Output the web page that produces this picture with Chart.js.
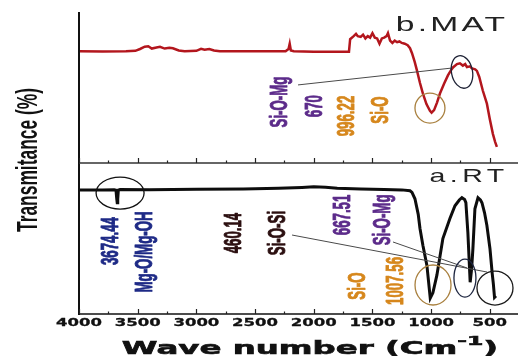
<!DOCTYPE html>
<html>
<head>
<meta charset="utf-8">
<script src="https://cdn.jsdelivr.net/npm/chart.js@4.4.1/dist/chart.umd.min.js"></script>
<style>
  html, body { margin: 0; padding: 0; background: #fff; overflow: hidden; }
  #wrap { position: relative; width: 518px; height: 356px; }
</style>
</head>
<body>
<div id="wrap"><canvas id="ftir" width="518" height="356"></canvas></div>
<script>
// FTIR spectra: wavenumber (cm-1) and transmittance (%, each panel on its own 0-100 scale)

// b.MAT (upper panel)
const matWavenumber = [4000, 3800, 3600, 3520, 3480, 3440, 3410, 3380, 3340, 3310, 3270, 3230, 3200, 3150, 3100,
  3000, 2960, 2930, 2890, 2850, 2800, 2500, 2240, 2215, 2205, 2195, 2170, 2000, 1800, 1700,
  1690, 1660, 1640, 1625, 1600, 1580, 1560, 1540, 1520, 1500, 1480, 1460, 1440, 1420, 1400,
  1380, 1368, 1350, 1330, 1310, 1290, 1270, 1250, 1225, 1200, 1180, 1163, 1140, 1121, 1095,
  1070, 1040, 1010, 996.22, 975, 950, 925, 890, 857, 830, 814, 780, 755, 730, 710, 695, 670,
  652, 625, 610, 590, 560, 525, 500, 474, 455, 440];
const matTransmittance = [74, 73.8, 74, 74.3, 75.5, 77, 77.3, 75.8, 76.5, 77, 75.8, 76.3, 76, 74.5, 74,
  74.3, 75.6, 75, 75.5, 74.5, 74, 74, 74, 75.5, 79, 74.5, 74, 73.6, 73.6, 73.7,
  82, 84, 85.5, 84, 83.5, 85, 82.5, 84, 83, 86, 83, 82.5, 79, 82.5, 83,
  84, 86, 81, 79.5, 81, 80, 80.5, 79.5, 79, 78, 76, 72.7, 67, 61.3, 53,
  46, 39, 34.5, 33.3, 35, 40, 46, 52.5, 58, 61.5, 63.3, 65.5, 66, 64.5, 65.5, 63.5, 64,
  62.7, 62, 61, 57, 48, 39.3, 29, 19.3, 14, 10.7];

// a.RT (lower panel)
const rtWavenumber = [4000, 3800, 3700, 3685, 3678, 3674.44, 3670, 3665, 3650, 3400, 3000, 2600, 2300, 2100,
  2000, 1900, 1800, 1600, 1400, 1250, 1180, 1163, 1138, 1110, 1095, 1070, 1036, 1007.56, 985,
  951, 900, 840, 797, 760, 738, 715, 704, 687, 667.51, 655, 644, 627, 601, 580, 567, 545, 525,
  499, 480, 470, 460.14, 448];
const rtTransmittance = [82.2, 82.2, 82.3, 82, 76, 73.7, 76, 82, 82.4, 82.3, 82.6, 82.8, 83.2, 83.8,
  84.2, 84, 83.3, 82.8, 82.5, 82.2, 81.6, 80.5, 76.3, 66, 56.6, 45.4, 32.2, 10.5, 14,
  25.7, 50, 63.2, 71.7, 75.5, 77, 75.8, 73.7, 53.9, 21, 30, 43.4, 69.7, 77, 75.5, 73.7, 67, 58.6,
  43.4, 27, 20, 11, 12];

// x axis ticks
const tickLabels = [4000, 3500, 3000, 2500, 2000, 1500, 1000, 500];
const minorTicks = [3750, 3250, 2750, 2250, 1750, 1250, 750];

// band annotations: [text, wavenumber, transmittance, panel, colour]
const PURPLE = '#5c2b8a', ORANGE = '#d6871c', NAVY = '#1e2a86', DARK = '#2b0f10';
const bandLabels = [
  ['Si-O-Mg', 2288, 40.4, 'mat', PURPLE],
  ['670', 1989, 37.7, 'mat', PURPLE],
  ['996.22', 1717, 31.1, 'mat', ORANGE],
  ['Si-O', 1427, 35.1, 'mat', ORANGE],
  ['3674.44', 3727, 48.3, 'rt', NAVY],
  ['Mg-O/Mg-OH', 3438, 41.1, 'rt', NAVY],
  ['460.14', 2680, 53.6, 'rt', DARK],
  ['Si-O-Si', 2305, 53.6, 'rt', DARK],
  ['667.51', 1751, 65.6, 'rt', PURPLE],
  ['Si-O-Mg', 1410, 62.3, 'rt', PURPLE],
  ['Si-O', 1623, 18.5, 'rt', ORANGE],
  ['1007.56', 1299, 21.9, 'rt', ORANGE]
];
// leader lines: [from wn, from T, to wn, to T, panel]
const leaders = [
  [2134, 51.7, 822, 62.9, 'mat'],
  [2185, 52.3, 524, 27.8, 'rt'],
  [1325, 47.7, 695, 30.5, 'rt']
];
// band markers (ellipses): [wn, T, rx, ry, tilt, panel, colour]
const markers = [
  [1010, 36.4, 15, 15, 0, 'mat', '#a9803f'],
  [737, 60.3, 10.5, 16.5, -0.2, 'mat', '#1e2235'],
  [3650, 80.1, 24, 16, 0, 'rt', '#111111'],
  [984, 19.2, 18, 20, 0, 'rt', '#a9803f'],
  [712, 23.8, 11, 19, 0, 'rt', '#1e2640'],
  [456, 17.2, 18, 17, 0, 'rt', '#1a1a1a']
];

const toPoints = (xs, ys) => xs.map((v, i) => ({ x: v, y: ys[i] }));

// text with a screen-space stretch (sx horizontal, sy vertical)
function wideText(ctx, text, px, py, o) {
  ctx.save();
  ctx.translate(px, py);
  ctx.scale(o.sx, o.sy || 1);
  if (o.rotate) ctx.rotate(-Math.PI / 2);
  ctx.font = o.font;
  ctx.fillStyle = o.color;
  ctx.textAlign = o.align || 'center';
  ctx.textBaseline = o.baseline || 'middle';
  if (o.spacing) ctx.letterSpacing = o.spacing;
  ctx.fillText(text, 0, 0);
  if (o.heavy) {
    ctx.strokeStyle = o.color;
    ctx.lineWidth = o.heavy;
    ctx.lineJoin = 'round';
    ctx.strokeText(text, 0, 0);
  }
  ctx.restore();
}

const decor = {
  id: 'decor',
  afterDatasetsDraw(chart) {
    const { ctx, chartArea: a, scales } = chart;
    const x = scales.x;
    const yOf = { mat: scales.yMat, rt: scales.yRt };
    const midY = scales.yRt.getPixelForValue(100);

    ctx.save();
    // axis frame
    ctx.strokeStyle = '#111';
    ctx.lineWidth = 2;
    ctx.beginPath(); ctx.moveTo(79, a.top); ctx.lineTo(79, a.bottom + 1); ctx.stroke();
    ctx.lineWidth = 1.5;
    ctx.beginPath(); ctx.moveTo(78, a.bottom); ctx.lineTo(a.right, a.bottom); ctx.stroke();
    ctx.strokeStyle = '#333';
    ctx.lineWidth = 1.3;
    ctx.beginPath(); ctx.moveTo(79, midY); ctx.lineTo(a.right, midY); ctx.stroke();

    // ticks (pointing into the panels)
    ctx.strokeStyle = '#222';
    ctx.lineWidth = 1.2;
    [a.bottom, midY].forEach(base => {
      tickLabels.forEach(v => {
        const px = Math.round(x.getPixelForValue(v)) + 0.5;
        ctx.beginPath(); ctx.moveTo(px, base); ctx.lineTo(px, base - 5); ctx.stroke();
      });
      minorTicks.forEach(v => {
        const px = Math.round(x.getPixelForValue(v)) + 0.5;
        ctx.beginPath(); ctx.moveTo(px, base); ctx.lineTo(px, base - 2.5); ctx.stroke();
      });
    });

    // tick labels
    tickLabels.forEach(v => {
      wideText(ctx, String(v), x.getPixelForValue(v), a.bottom + 9.5,
        { font: 'bold 11px "DejaVu Sans"', color: '#111', sx: 1.5, heavy: 0.3 });
    });

    // axis titles
    wideText(ctx, 'Transmitance (%)', 29, 160,
      { font: 'bold 20px "Liberation Sans"', color: '#111', sx: 1.45, sy: 0.87, rotate: true });

    ctx.save();
    ctx.font = 'bold 18px "DejaVu Sans"';
    const t1 = 'Wave number (Cm', t3 = ')';
    const w1 = ctx.measureText(t1).width, w3 = ctx.measureText(t3).width;
    ctx.font = 'bold 13px "DejaVu Sans"';
    const w2 = ctx.measureText('-1').width;
    const sx = 1.8, total = w1 + w2 + w3;
    ctx.translate(310, 354);
    ctx.scale(sx, 1);
    ctx.fillStyle = '#111';
    ctx.strokeStyle = '#111';
    ctx.lineWidth = 0.6;
    ctx.textBaseline = 'alphabetic';
    ctx.textAlign = 'left';
    let cx = -total / 2;
    ctx.font = 'bold 18px "DejaVu Sans"';
    ctx.fillText(t1, cx, 0); ctx.strokeText(t1, cx, 0); cx += w1;
    ctx.font = 'bold 13px "DejaVu Sans"';
    ctx.fillText('-1', cx, -9); ctx.strokeText('-1', cx, -9); cx += w2;
    ctx.font = 'bold 18px "DejaVu Sans"';
    ctx.fillText(t3, cx, 0); ctx.strokeText(t3, cx, 0);
    ctx.restore();

    // panel names
    wideText(ctx, 'b.MAT', x.getPixelForValue(822), scales.yMat.getPixelForValue(91.4),
      { font: '21px "Liberation Sans"', color: '#222', sx: 1.6, spacing: '2px' });
    wideText(ctx, 'a.RT', x.getPixelForValue(677), scales.yRt.getPixelForValue(90.7),
      { font: '19px "Liberation Sans"', color: '#222', sx: 1.5, spacing: '3px' });

    // leader lines
    ctx.strokeStyle = '#4a4a4a';
    ctx.lineWidth = 1;
    leaders.forEach(([w0, t0, w1b, t1b, p]) => {
      const y = yOf[p];
      ctx.beginPath();
      ctx.moveTo(x.getPixelForValue(w0), y.getPixelForValue(t0));
      ctx.lineTo(x.getPixelForValue(w1b), y.getPixelForValue(t1b));
      ctx.stroke();
    });

    // band markers
    markers.forEach(([w, t, rx, ry, tilt, p, col]) => {
      ctx.strokeStyle = col;
      ctx.lineWidth = 1.3;
      ctx.beginPath();
      ctx.ellipse(x.getPixelForValue(w), yOf[p].getPixelForValue(t), rx, ry, tilt, 0, Math.PI * 2);
      ctx.stroke();
    });

    // band labels
    bandLabels.forEach(([txt, w, t, p, col]) => {
      wideText(ctx, txt, x.getPixelForValue(w), yOf[p].getPixelForValue(t),
        { font: 'bold 16px "Liberation Sans"', color: col, sx: 1.5, sy: 0.83, rotate: true, heavy: 0.6 });
    });
    ctx.restore();
  }
};

new Chart(document.getElementById('ftir'), {
  type: 'line',
  data: {
    datasets: [
      {
        label: 'b.MAT',
        data: toPoints(matWavenumber, matTransmittance),
        yAxisID: 'yMat',
        borderColor: '#b3161d',
        borderWidth: 2.5,
        pointRadius: 0,
        tension: 0
      },
      {
        label: 'a.RT',
        data: toPoints(rtWavenumber, rtTransmittance),
        yAxisID: 'yRt',
        borderColor: '#0d0d0d',
        borderWidth: 3,
        pointRadius: 0,
        tension: 0
      }
    ]
  },
  options: {
    responsive: false,
    animation: false,
    devicePixelRatio: 1,
    layout: { padding: { left: 79, top: 12, right: 0, bottom: 42 } },
    plugins: { legend: { display: false }, tooltip: { enabled: false } },
    scales: {
      x: { type: 'linear', reverse: true, min: 260, max: 4000, display: false },
      yMat: { type: 'linear', min: -100, max: 100, display: false },
      yRt: { type: 'linear', min: 0, max: 200, display: false }
    }
  },
  plugins: [decor]
});
</script>
</body>
</html>
